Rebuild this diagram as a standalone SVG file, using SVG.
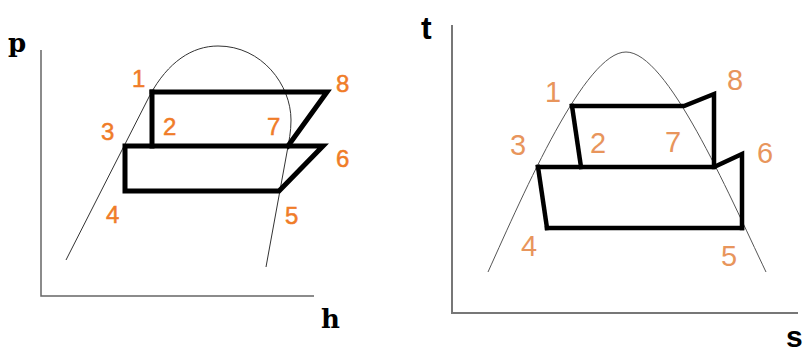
<svg xmlns="http://www.w3.org/2000/svg" width="810" height="353" viewBox="0 0 810 353">
<style>
.axis{fill:none;stroke:#666;stroke-width:1.5}
.dome{fill:none;stroke:#333;stroke-width:1}
.cyc{fill:none;stroke:#000;stroke-width:5;stroke-linejoin:miter;stroke-linecap:square}
.cyc2{fill:none;stroke:#000;stroke-width:4.5;stroke-linejoin:miter;stroke-linecap:square}
.lbl{font-family:"Liberation Sans",Arial,sans-serif;font-size:24px;fill:#F07C28;stroke:#F07C28;stroke-width:0.5}
.lbl2{font-family:"Liberation Sans",Arial,sans-serif;font-size:29px;fill:#E8955C}
.ax1{font-family:"DejaVu Serif","Liberation Serif",serif;font-weight:bold;font-size:26px;fill:#000}
.ax2{font-family:"Liberation Sans",Arial,sans-serif;font-weight:bold;fill:#000}
</style>
<rect width="810" height="353" fill="#fff"/>
<g id="ph-diagram">
  <g id="ph-axes">
    <path class="axis" d="M41,50 L41,296 L314,296"/>
    <text class="ax1" x="8" y="52">p</text>
    <text class="ax1" x="321" y="328">h</text>
  </g>
  <g id="ph-dome">
    <path class="dome" d="M66,260 L150,95 C168,62 192,46 218,46 C262,46 291,85 291,120 C291,132 289,141 287,152 L266,267"/>
  </g>
  <g id="ph-cycle">
    <path class="cyc" d="M152,92 L327,92 L288,146"/>
    <path class="cyc" d="M152,92 L152,146"/>
    <path class="cyc" d="M125,146 L323,146 L279,191 L125,191 Z"/>
  </g>
  <g id="ph-labels">
    <text class="lbl" x="132" y="87">1</text>
    <text class="lbl" x="163" y="135">2</text>
    <text class="lbl" x="101" y="140">3</text>
    <text class="lbl" x="106" y="223">4</text>
    <text class="lbl" x="285" y="224">5</text>
    <text class="lbl" x="336" y="167">6</text>
    <text class="lbl" x="267" y="135">7</text>
    <text class="lbl" x="336" y="92">8</text>
  </g>
</g>
<g id="ts-diagram">
  <g id="ts-axes">
    <path class="axis" d="M452,25 L452,313 L798,313" style="stroke-width:2;stroke:#777"/>
    <text class="ax2" x="421" y="39" font-size="32">t</text>
    <text class="ax2" x="786" y="347" font-size="30">s</text>
  </g>
  <g id="ts-dome">
    <path class="dome" d="M488,272 C525,190 585,52 626,52 C667,52 727,190 766,272" style="stroke:#555"/>
  </g>
  <g id="ts-cycle">
    <path class="cyc2" d="M572,106 L684,106 L714,94 L714,167"/>
    <path class="cyc2" d="M572,106 L581,167"/>
    <path class="cyc2" d="M538,167 L714,167 L742,154 L742,228"/>
    <path class="cyc2" d="M547,228 L742,228"/>
    <path class="cyc2" d="M538,167 L547,228"/>
  </g>
  <g id="ts-labels">
    <text class="lbl2" x="545" y="102">1</text>
    <text class="lbl2" x="590" y="153">2</text>
    <text class="lbl2" x="510" y="155">3</text>
    <text class="lbl2" x="521" y="256">4</text>
    <text class="lbl2" x="721" y="266">5</text>
    <text class="lbl2" x="757" y="163">6</text>
    <text class="lbl2" x="665" y="152">7</text>
    <text class="lbl2" x="727" y="90">8</text>
  </g>
</g>
</svg>
